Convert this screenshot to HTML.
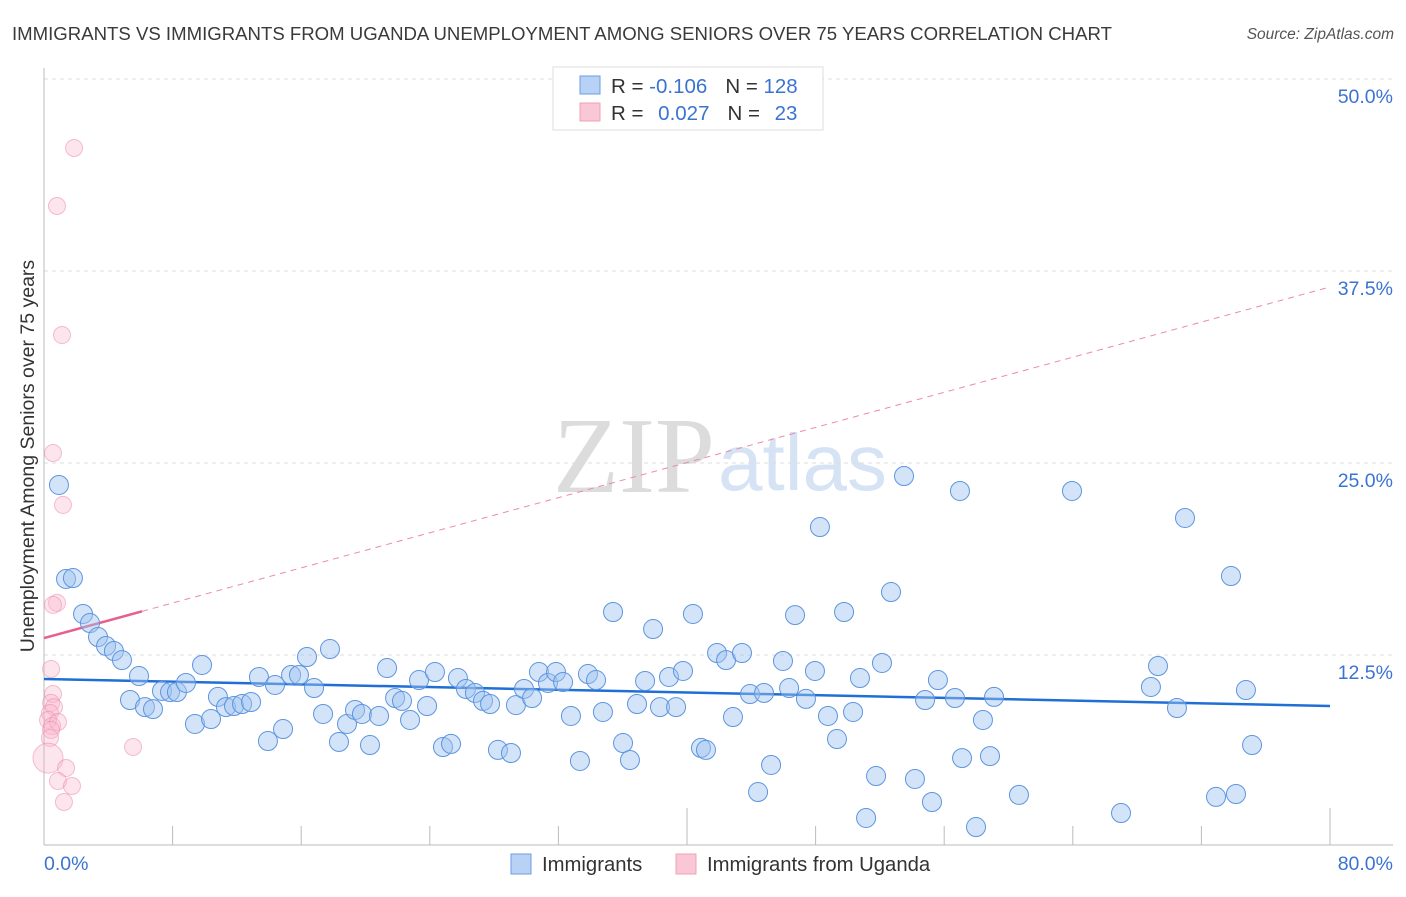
<!DOCTYPE html>
<html><head><meta charset="utf-8">
<style>
body{margin:0;background:#fff;font-family:"Liberation Sans",sans-serif;}
svg text{font-family:"Liberation Sans",sans-serif;}
</style></head>
<body>
<svg id="chart" width="1406" height="892" xmlns="http://www.w3.org/2000/svg">
<text x="12" y="40" font-size="18.6" fill="#3a3a3a">IMMIGRANTS VS IMMIGRANTS FROM UGANDA UNEMPLOYMENT AMONG SENIORS OVER 75 YEARS CORRELATION CHART</text>
<text x="1394" y="39" font-size="15.5" fill="#555" font-style="italic" text-anchor="end">Source: ZipAtlas.com</text>
<g>
<text x="553" y="492" font-size="108" fill="#dcdcdc" style="font-family:'Liberation Serif',serif">ZIP</text>
<text x="718" y="490" font-size="80" fill="#d5e3f5">atlas</text>
</g>
<g id="grid"></g>
<g id="axes"></g>
<g id="trends"></g>
<g id="pts"></g>
<text transform="translate(34,456) rotate(-90)" font-size="19.5" fill="#333" text-anchor="middle">Unemployment Among Seniors over 75 years</text>
<g>
<rect x="553" y="67" width="270" height="63" fill="#fff" stroke="#ddd"/>
<rect x="580" y="76" width="20" height="18" fill="#b8d2f5" stroke="#6a9de0"/>
<rect x="580" y="103" width="20" height="18" fill="#f9c7d6" stroke="#f0a0b8"/>
<text x="611" y="93" font-size="20.5" fill="#333">R = <tspan fill="#3b73d1">-0.106</tspan><tspan dx="18">N = </tspan><tspan fill="#3b73d1">128</tspan></text>
<text x="611" y="120" font-size="20.5" fill="#333">R = <tspan fill="#3b73d1" dx="9">0.027</tspan><tspan dx="18">N = </tspan><tspan fill="#3b73d1" dx="9">23</tspan></text>
</g>
<g>
<rect x="511" y="854" width="20" height="20" fill="#b8d2f5" stroke="#6a9de0"/>
<text x="542" y="871" font-size="20.3" fill="#333">Immigrants</text>
<rect x="676" y="854" width="20" height="20" fill="#f9c7d6" stroke="#f0a0b8"/>
<text x="707" y="871" font-size="20.3" fill="#333">Immigrants from Uganda</text>
</g>
</svg>
<script>
const blueX=[0.93,1.37,1.8,2.43,2.86,3.36,3.86,4.35,4.85,5.91,5.35,6.28,6.78,7.34,7.84,8.27,8.83,9.39,9.83,10.39,10.82,11.32,11.82,12.32,12.88,13.37,13.93,14.37,14.87,15.37,15.86,16.36,16.8,17.36,17.79,18.35,18.85,19.35,19.78,20.28,20.84,21.34,21.84,22.27,22.77,23.33,23.83,24.32,24.82,25.32,25.75,26.25,26.81,27.31,27.75,28.24,29.05,29.36,29.86,30.36,30.79,31.35,31.85,32.29,32.78,33.34,33.84,34.34,34.77,35.4,36.02,36.45,36.89,37.39,37.89,38.32,38.88,39.32,39.75,40.37,40.87,41.18,41.87,42.43,42.86,43.42,43.92,44.42,44.79,45.23,45.97,46.35,46.72,47.4,47.96,48.27,48.77,49.33,49.77,50.33,50.76,51.14,51.76,52.13,52.69,53.5,54.18,54.81,55.24,55.61,56.67,56.98,57.11,57.98,58.41,58.85,59.1,60.65,63.95,67.0,68.86,69.3,70.48,70.98,72.91,73.84,74.15,74.77,75.15];
const blueY=[23.57,17.45,17.51,15.17,14.58,13.67,13.09,12.76,12.17,11.13,9.57,9.11,8.98,10.16,10.09,10.09,10.68,8.01,11.85,8.33,9.77,9.11,9.18,9.31,9.44,11.07,6.9,10.55,7.68,11.2,11.2,12.37,10.35,8.66,12.89,6.84,8.01,8.92,8.66,6.64,8.53,11.65,9.7,9.51,8.27,10.87,9.18,11.39,6.51,6.71,11.0,10.29,10.03,9.51,9.31,6.32,6.12,9.24,10.29,9.7,11.39,10.68,11.39,10.74,8.53,5.6,11.26,10.87,8.79,15.3,6.77,5.66,9.31,10.81,14.19,9.11,11.07,9.11,11.46,15.17,6.45,6.32,12.63,12.17,8.46,12.63,9.96,3.58,10.03,5.34,12.11,10.35,15.1,9.64,11.46,20.83,8.53,7.03,15.3,8.79,11.0,1.89,4.62,11.98,16.6,24.15,4.43,9.57,2.93,10.87,9.7,23.18,5.79,1.3,8.27,5.92,9.77,3.39,23.18,2.21,10.42,11.78,9.05,21.42,3.26,17.64,3.45,10.22,6.64];
const pinkX=[1.87,0.81,1.12,0.56,1.18,0.81,0.56,0.44,0.56,0.44,0.62,0.37,0.25,0.5,0.87,0.44,0.37,0.25,1.37,0.87,1.74,1.24,5.54];
const pinkY=[45.51,41.73,33.33,25.65,22.27,15.89,15.76,11.59,9.96,9.38,9.11,8.72,8.27,7.88,8.14,7.62,7.1,5.79,5.14,4.3,3.97,2.93,6.51];
const blueTrendY=[10.94,9.18];
const pinkTrendY=[13.6,36.46];
const pinkSolidEndX=6.1;
const yTicks=[12.5,25,37.5,50];
const yTickLabels=["12.5%","25.0%","37.5%","50.0%"];
const xTicks=[0,8,16,24,32,40,48,56,64,72,80];
const xEndLabels=["0.0%","80.0%"];

const NS="http://www.w3.org/2000/svg";
const X0=44,X1=1330,Y0=847,PXY=15.36;
const sx=v=>X0+(X1-X0)*v/80;
const sy=v=>Y0-v*PXY;
function mk(tag,attrs,parent){const e=document.createElementNS(NS,tag);for(const k in attrs)e.setAttribute(k,attrs[k]);parent.appendChild(e);return e;}
const grid=document.getElementById('grid'),axes=document.getElementById('axes'),trends=document.getElementById('trends'),pts=document.getElementById('pts');
yTicks.forEach((t,i)=>{
  const l=mk('line',{x1:X0,x2:1393,y1:sy(t),y2:sy(t),stroke:'#dcdcdc','stroke-dasharray':'4,4'},grid);
  
  
  const tx=mk('text',{x:1393,y:sy(t)+24,'font-size':19.5,fill:'#3b73d1','text-anchor':'end'},grid);
  tx.textContent=yTickLabels[i];
  
  
});
mk('line',{x1:X0,x2:X0,y1:68,y2:845,stroke:'#bbb'},axes);
mk('line',{x1:X0,x2:1393,y1:845,y2:845,stroke:'#bbb'},axes);
xTicks.forEach((t,i)=>{
  if(i===0)return;
  const tall=(t===40||t===80);
  const l=mk('line',{x1:sx(t),x2:sx(t),y1:tall?808:826,y2:845,stroke:'#bbb'},axes);
  
  
});
const xl0=mk('text',{x:X0,y:870,'font-size':19.5,fill:'#3b73d1'},axes);xl0.textContent=xEndLabels[0];


const xl1=mk('text',{x:1393,y:870,'font-size':19.5,fill:'#3b73d1','text-anchor':'end'},axes);xl1.textContent=xEndLabels[1];


for(let i=0;i<pinkX.length;i++){
  const c=mk('circle',{cx:sx(pinkX[i]),cy:sy(pinkY[i]),r:(i===17?15:8.5),fill:'rgba(248,180,202,0.35)',stroke:'rgba(235,140,170,0.55)','stroke-width':1},pts);
  
  
}
for(let i=0;i<blueX.length;i++){
  const c=mk('circle',{cx:sx(blueX[i]),cy:sy(blueY[i]),r:9.5,fill:'rgba(160,196,240,0.45)',stroke:'#5d95e0','stroke-width':1},pts);
  
  
}
const pt=x=>pinkTrendY[0]+(pinkTrendY[1]-pinkTrendY[0])*x/80;
const pd=mk('line',{x1:sx(pinkSolidEndX),y1:sy(pt(pinkSolidEndX)),x2:sx(80),y2:sy(pt(80)),stroke:'#ec8aa8','stroke-width':1,'stroke-dasharray':'6,5'},trends);


const ps=mk('line',{x1:sx(0),y1:sy(pt(0)),x2:sx(pinkSolidEndX),y2:sy(pt(pinkSolidEndX)),stroke:'#e8608a','stroke-width':2.5},trends);


const bt=mk('line',{x1:sx(0),y1:sy(blueTrendY[0]),x2:sx(80),y2:sy(blueTrendY[1]),stroke:'#1f6fd6','stroke-width':2.5},trends);


</script>
</body></html>
